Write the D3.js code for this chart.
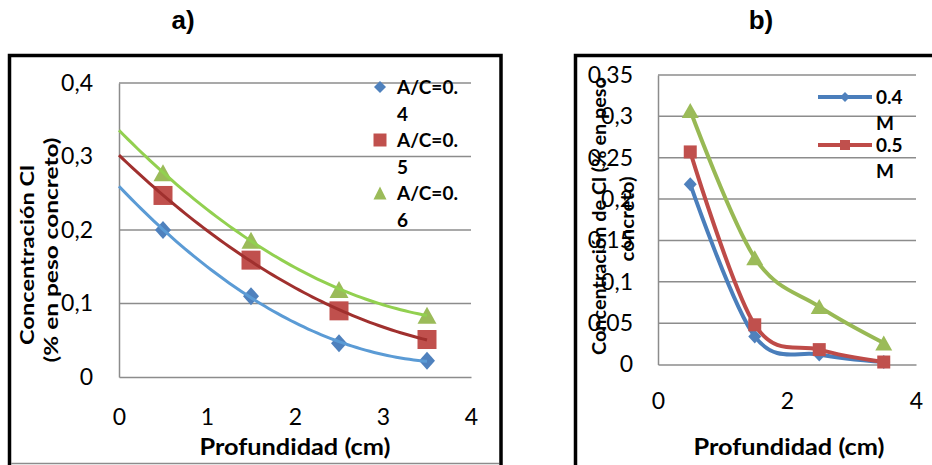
<!DOCTYPE html>
<html>
<head>
<meta charset="utf-8">
<script src="https://cdn.jsdelivr.net/npm/d3@7"></script>
<style>
  html, body { margin: 0; padding: 0; background: #fff; }
  svg { display: block; }
  text { font-family: Lato, "Open Sans", sans-serif; fill: #000; }
</style>
</head>
<body>
<svg id="chart" width="932" height="465"></svg>
<script>
// ---- Panel a: chloride concentration vs depth, by water/cement ratio ----
const depthA = [0.5, 1.5, 2.5, 3.5];
const seriesA = ["A/C=0.4", "A/C=0.5", "A/C=0.6"];
const legendA = [["A/C=0.", "4"], ["A/C=0.", "5"], ["A/C=0.", "6"]];
const valuesA04 = [0.200, 0.110, 0.046, 0.022];
const valuesA05 = [0.247, 0.159, 0.090, 0.051];
const valuesA06 = [0.278, 0.186, 0.119, 0.084];
const yTicksA = [0, 0.1, 0.2, 0.3, 0.4];
const xTicksA = [0, 1, 2, 3, 4];

// ---- Panel b: chloride concentration vs depth, by molarity ----
const depthB = [0.5, 1.5, 2.5, 3.5];
const legendB = [["0.4", "M"], ["0.5", "M"]];
const valuesB04 = [0.218, 0.034, 0.012, 0.003];
const valuesB05 = [0.257, 0.048, 0.018, 0.003];
const valuesB06 = [0.307, 0.129, 0.070, 0.026];
const yTicksB = [0, 0.05, 0.1, 0.15, 0.2, 0.25, 0.3, 0.35];
const xTicksB = [0, 2, 4];

const markerColors = ["#4F81BD", "#C0504D", "#9BBB59"];
const trendColors = ["#5B9BD5", "#A0302E", "#92D050"];
const lineColorsB = ["#4A7EBB", "#BE4B48", "#98B954"];
const gridColor = "#8C8C8C";

const svg = d3.select("#chart");
const fmt = v => String(+v.toFixed(2)).replace(".", ",");

// Marker shapes, centred on (0,0)
function markerPath(kind, w, h) {
  const a = w / 2, b = h / 2;
  if (kind === 0) return `M0,${-b}L${a},0L0,${b}L${-a},0Z`;
  if (kind === 1) return `M${-a},${-b}H${a}V${b}H${-a}Z`;
  return `M0,${-b}L${a},${b}H${-a}Z`;
}

// Least-squares quadratic trend through a series
function quadFit(xs, ys) {
  let s = [0, 0, 0, 0, 0], t = [0, 0, 0];
  xs.forEach((x, i) => {
    for (let k = 0; k < 5; k++) s[k] += Math.pow(x, k);
    for (let k = 0; k < 3; k++) t[k] += Math.pow(x, k) * ys[i];
  });
  const M = [[s[0], s[1], s[2], t[0]], [s[1], s[2], s[3], t[1]], [s[2], s[3], s[4], t[2]]];
  for (let i = 0; i < 3; i++) {
    for (let j = i + 1; j < 3; j++) {
      const f = M[j][i] / M[i][i];
      for (let k = i; k < 4; k++) M[j][k] -= f * M[i][k];
    }
  }
  const c = [0, 0, 0];
  for (let i = 2; i >= 0; i--) {
    let v = M[i][3];
    for (let k = i + 1; k < 3; k++) v -= M[i][k] * c[k];
    c[i] = v / M[i][i];
  }
  return x => c[0] + c[1] * x + c[2] * x * x;
}

// ---------------- frames and titles ----------------
svg.append("rect").attr("x", 9.5).attr("y", 55.5).attr("width", 491.5).attr("height", 430)
  .attr("fill", "none").attr("stroke", "#000").attr("stroke-width", 3.5);
svg.append("rect").attr("x", 575.5).attr("y", 55.5).attr("width", 380).attr("height", 430)
  .attr("fill", "none").attr("stroke", "#000").attr("stroke-width", 3.5);

svg.append("text").attr("x", 183).attr("y", 29).attr("text-anchor", "middle")
  .style("font-family", "'Liberation Sans', Arial, sans-serif").style("font-weight", "bold")
  .style("font-size", "26px").text("a)");
svg.append("text").attr("x", 761).attr("y", 29).attr("text-anchor", "middle")
  .style("font-family", "'Liberation Sans', Arial, sans-serif").style("font-weight", "bold")
  .style("font-size", "26px").text("b)");

// ---------------- panel a ----------------
const xA = d3.scaleLinear().domain([0, 4]).range([119, 471]);
const yA = d3.scaleLinear().domain([0, 0.4]).range([377, 83]);
const gA = svg.append("g");

gA.selectAll("line.grid").data(yTicksA.filter(d => d > 0)).join("line")
  .attr("x1", xA(0)).attr("x2", xA(4)).attr("y1", d => yA(d)).attr("y2", d => yA(d))
  .attr("stroke", gridColor).attr("stroke-width", 1.5);

const axisYA = gA.append("g").attr("transform", `translate(${xA(0)},0)`)
  .call(d3.axisLeft(yA).tickValues(yTicksA).tickFormat(fmt).tickSize(0).tickPadding(26));
const axisXA = gA.append("g").attr("transform", `translate(0,${yA(0)})`)
  .call(d3.axisBottom(xA).tickValues(xTicksA).tickFormat(d3.format("d")).tickSize(0).tickPadding(32));
[axisYA, axisXA].forEach(ax => {
  ax.select(".domain").attr("stroke", gridColor).attr("stroke-width", 1.5);
  ax.selectAll("text").style("font-family", "Lato, sans-serif").style("font-size", "23px").attr("fill", "#000");
});

const seriesValsA = [valuesA04, valuesA05, valuesA06];
const markerSizeA = [[16, 18], [19, 19], [19, 17]];
seriesValsA.forEach((vals, si) => {
  gA.append("g").selectAll("path").data(vals).join("path")
    .attr("transform", (d, i) => `translate(${xA(depthA[i])},${yA(d)})`)
    .attr("d", markerPath(si, markerSizeA[si][0], markerSizeA[si][1]))
    .attr("fill", markerColors[si]);
});
seriesValsA.forEach((vals, si) => {
  const f = quadFit(depthA, vals);
  const xs = d3.range(0, 3.5001, 0.05);
  gA.append("path").datum(xs)
    .attr("d", d3.line().x(x => xA(x)).y(x => yA(f(x))).curve(d3.curveMonotoneX))
    .attr("fill", "none").attr("stroke", trendColors[si]).attr("stroke-width", 3);
});

// legend a
legendA.forEach((lines, i) => {
  const cy = 87 + i * 53;
  svg.append("path").attr("transform", `translate(380,${cy})`)
    .attr("d", markerPath(i, i === 0 ? 12 : 13, i === 0 ? 12 : 13)).attr("fill", markerColors[i]);
  svg.append("text").attr("x", 397).attr("y", cy + 7).style("font-weight", "bold").style("font-size", "19px")
    .text(lines[0]);
  svg.append("text").attr("x", 397).attr("y", cy + 34).style("font-weight", "bold").style("font-size", "19px")
    .text(lines[1]);
});

svg.append("text").attr("x", 295).attr("y", 455).attr("text-anchor", "middle")
  .style("font-weight", "bold").style("font-size", "22px")
  .attr("textLength", 191).attr("lengthAdjust", "spacingAndGlyphs").text("Profundidad (cm)");
svg.append("text").attr("transform", "translate(34,255) rotate(-90)").attr("text-anchor", "middle")
  .style("font-weight", "bold").style("font-size", "18px")
  .attr("textLength", 180).attr("lengthAdjust", "spacingAndGlyphs").text("Concentración Cl");
svg.append("text").attr("transform", "translate(58,250) rotate(-90)").attr("text-anchor", "middle")
  .style("font-weight", "bold").style("font-size", "18px")
  .attr("textLength", 225).attr("lengthAdjust", "spacingAndGlyphs").text("(% en peso concreto)");

svg.append("line").attr("x1", 11).attr("x2", 499).attr("y1", 463.5).attr("y2", 463.5)
  .attr("stroke", gridColor).attr("stroke-width", 1.5);

// ---------------- panel b ----------------
const xB = d3.scaleLinear().domain([0, 4]).range([658, 916]);
const yB = d3.scaleLinear().domain([0, 0.35]).range([364.5, 75]);
const gB = svg.append("g");

gB.selectAll("line.grid").data(yTicksB.filter(d => d > 0)).join("line")
  .attr("x1", xB(0)).attr("x2", xB(4)).attr("y1", d => yB(d)).attr("y2", d => yB(d))
  .attr("stroke", gridColor).attr("stroke-width", 1.5);

const axisYB = gB.append("g").attr("transform", `translate(${xB(0)},0)`)
  .call(d3.axisLeft(yB).tickValues(yTicksB).tickFormat(fmt).tickSize(0).tickPadding(25));
const axisXB = gB.append("g").attr("transform", `translate(0,${yB(0)})`)
  .call(d3.axisBottom(xB).tickValues(xTicksB).tickFormat(d3.format("d")).tickSize(0).tickPadding(28));
[axisYB, axisXB].forEach(ax => {
  ax.select(".domain").attr("stroke", gridColor).attr("stroke-width", 1.5);
  ax.selectAll("text").style("font-family", "Lato, sans-serif").style("font-size", "23px").attr("fill", "#000");
});

svg.append("text").attr("transform", "translate(606,216) rotate(-90)").attr("text-anchor", "middle")
  .style("font-weight", "bold").style("font-size", "19px")
  .attr("textLength", 278).attr("lengthAdjust", "spacingAndGlyphs").text("Concentración de Cl (% en peso");
svg.append("text").attr("transform", "translate(634,219) rotate(-90)").attr("text-anchor", "middle")
  .style("font-weight", "bold").style("font-size", "19px")
  .attr("textLength", 85).attr("lengthAdjust", "spacingAndGlyphs").text("concreto)");

const seriesValsB = [valuesB04, valuesB05, valuesB06];
const markerSizeB = [[13, 14], [13, 13], [17, 15]];
const lineB = d3.line().x((d, i) => xB(depthB[i])).y(d => yB(d)).curve(d3.curveCatmullRom.alpha(0));
seriesValsB.forEach((vals, si) => {
  gB.append("path").datum(vals).attr("d", lineB)
    .attr("fill", "none").attr("stroke", lineColorsB[si]).attr("stroke-width", 4)
    .attr("stroke-linejoin", "round");
});
seriesValsB.forEach((vals, si) => {
  gB.append("g").selectAll("path").data(vals).join("path")
    .attr("transform", (d, i) => `translate(${xB(depthB[i])},${yB(d)})`)
    .attr("d", markerPath(si, markerSizeB[si][0], markerSizeB[si][1]))
    .attr("fill", markerColors[si]);
});

// legend b
legendB.forEach((lines, i) => {
  const cy = 97 + i * 48;
  svg.append("line").attr("x1", 818).attr("x2", 872).attr("y1", cy).attr("y2", cy)
    .attr("stroke", lineColorsB[i]).attr("stroke-width", 4);
  svg.append("path").attr("transform", `translate(845,${cy})`)
    .attr("d", markerPath(i, 10, 10)).attr("fill", markerColors[i]);
  svg.append("text").attr("x", 876).attr("y", cy + 7).style("font-weight", "bold").style("font-size", "19px")
    .text(lines[0]);
  svg.append("text").attr("x", 876).attr("y", cy + 33).style("font-weight", "bold").style("font-size", "19px")
    .text(lines[1]);
});

svg.append("text").attr("x", 789).attr("y", 455).attr("text-anchor", "middle")
  .style("font-weight", "bold").style("font-size", "22px")
  .attr("textLength", 191).attr("lengthAdjust", "spacingAndGlyphs").text("Profundidad (cm)");
</script>
</body>
</html>
